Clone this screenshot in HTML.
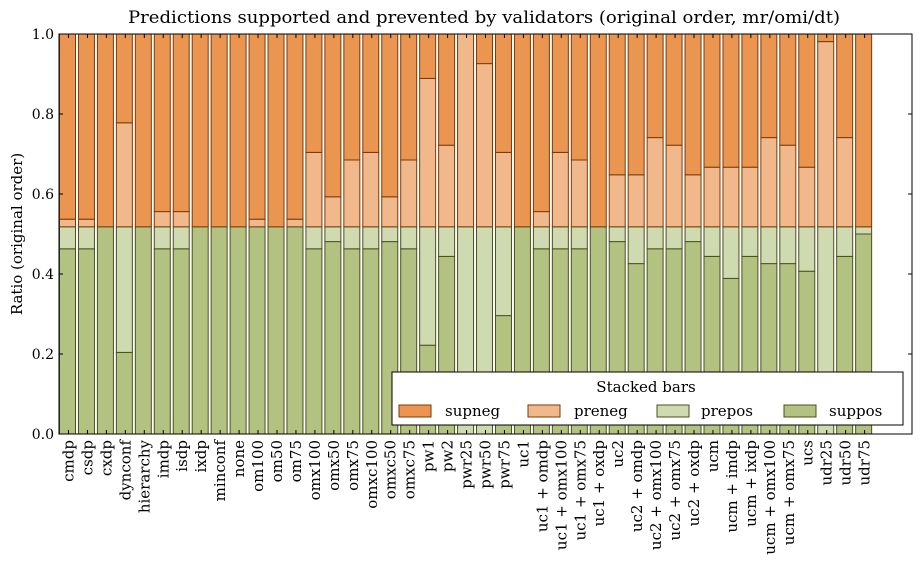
<!DOCTYPE html>
<html><head><meta charset="utf-8"><style>
html,body{margin:0;padding:0;background:#fff;width:921px;height:562px;overflow:hidden}
svg text{font-family:"DejaVu Serif","Liberation Serif",serif;fill:#000}
</style></head><body>
<svg id="s" width="921" height="562" xmlns="http://www.w3.org/2000/svg">
<rect x="0" y="0" width="921" height="562" fill="#fff"/>
<g id="bars"></g>
<rect x="59" y="34" width="853" height="400" fill="none" stroke="#000" stroke-width="1"/>
<g id="ticks"></g>
<text x="484" y="23" font-size="17" text-anchor="middle" textLength="712" lengthAdjust="spacingAndGlyphs">Predictions supported and prevented by validators (original order, mr/omi/dt)</text>
<text transform="translate(22,234) rotate(-90)" font-size="15" text-anchor="middle">Ratio (original order)</text>
<g font-size="14" text-anchor="end">
<text x="54" y="39">1.0</text><text x="54" y="119">0.8</text><text x="54" y="199">0.6</text>
<text x="54" y="279">0.4</text><text x="54" y="359">0.2</text><text x="54" y="439">0.0</text>
</g>
<g id="labels" font-size="15" text-anchor="end"></g>
<rect x="392" y="372" width="511" height="53" fill="#fff" stroke="#000" stroke-width="1"/>
<text x="646" y="392" font-size="15" text-anchor="middle">Stacked bars</text>
<rect x="399" y="405" width="32" height="12" fill="#ea9550" stroke="#7a3a08"/>
<text x="445" y="416" font-size="15">supneg</text>
<rect x="528" y="405" width="32" height="12" fill="#f1b98b" stroke="#7a3a08"/>
<text x="574" y="416" font-size="15">preneg</text>
<rect x="657" y="405" width="32" height="12" fill="#d0dab0" stroke="#4a5020"/>
<text x="701" y="416" font-size="15">prepos</text>
<rect x="784" y="405" width="32" height="12" fill="#b4c281" stroke="#4a5020"/>
<text x="829" y="416" font-size="15">suppos</text>
</svg>
<script>
var d=[["cmdp",.463,.518,.537],["csdp",.463,.518,.537],["cxdp",.518,.518,.518],["dynconf",.204,.518,.778],["hierarchy",.518,.518,.518],["imdp",.463,.518,.556],["isdp",.463,.518,.556],["ixdp",.518,.518,.518],["minconf",.518,.518,.518],["none",.518,.518,.518],["om100",.518,.518,.537],["om50",.518,.518,.518],["om75",.518,.518,.537],["omx100",.463,.518,.704],["omx50",.481,.518,.593],["omx75",.463,.518,.685],["omxc100",.463,.518,.704],["omxc50",.481,.518,.593],["omxc75",.463,.518,.685],["pw1",.222,.518,.889],["pw2",.444,.518,.722],["pwr25",0,.518,1],["pwr50",0,.518,.926],["pwr75",.296,.518,.704],["uc1",.518,.518,.518],["uc1 + omdp",.463,.518,.556],["uc1 + omx100",.463,.518,.704],["uc1 + omx75",.463,.518,.685],["uc1 + oxdp",.518,.518,.518],["uc2",.481,.518,.648],["uc2 + omdp",.426,.518,.648],["uc2 + omx100",.463,.518,.741],["uc2 + omx75",.463,.518,.722],["uc2 + oxdp",.481,.518,.648],["ucm",.444,.518,.667],["ucm + imdp",.389,.518,.667],["ucm + ixdp",.444,.518,.667],["ucm + omx100",.426,.518,.741],["ucm + omx75",.426,.518,.722],["ucs",.407,.518,.667],["udr25",0,.518,.981],["udr50",.444,.518,.741],["udr75",.5,.518,.518]];
var NS="http://www.w3.org/2000/svg",u=853/45,b=document.getElementById("bars"),t=document.getElementById("ticks"),l=document.getElementById("labels");
function Y(v){return 434-400*v}
function r(x,y0,y1,f,s){if(y1-y0<=0)return;var e=document.createElementNS(NS,"rect");e.setAttribute("x",x);e.setAttribute("y",Y(y1));e.setAttribute("width",16);e.setAttribute("height",400*(y1-y0));e.setAttribute("fill",f);e.setAttribute("stroke",s);e.setAttribute("stroke-width",1);b.appendChild(e)}
function ln(x1,y1,x2,y2){var e=document.createElementNS(NS,"line");e.setAttribute("x1",x1);e.setAttribute("y1",y1);e.setAttribute("x2",x2);e.setAttribute("y2",y2);e.setAttribute("stroke","#000");t.appendChild(e)}
d.forEach(function(a,i){var x=59+i*u+0.5;
r(x,0,a[1],"#b4c281","#4a5020");r(x,a[1],a[2],"#d0dab0","#4a5020");r(x,a[2],a[3],"#f1b98b","#7a3a08");r(x,a[3],1,"#ea9550","#7a3a08");
var c=59+(i+0.5)*u;ln(c,434,c,430);ln(c,34,c,38);
var e=document.createElementNS(NS,"text");e.setAttribute("transform","translate("+(c+5)+",440) rotate(-90)");e.textContent=a[0];l.appendChild(e);});
for(var k=0;k<=5;k++){var y=434-80*k;ln(59,y,63,y);ln(912,y,908,y);}
</script>
</body></html>
